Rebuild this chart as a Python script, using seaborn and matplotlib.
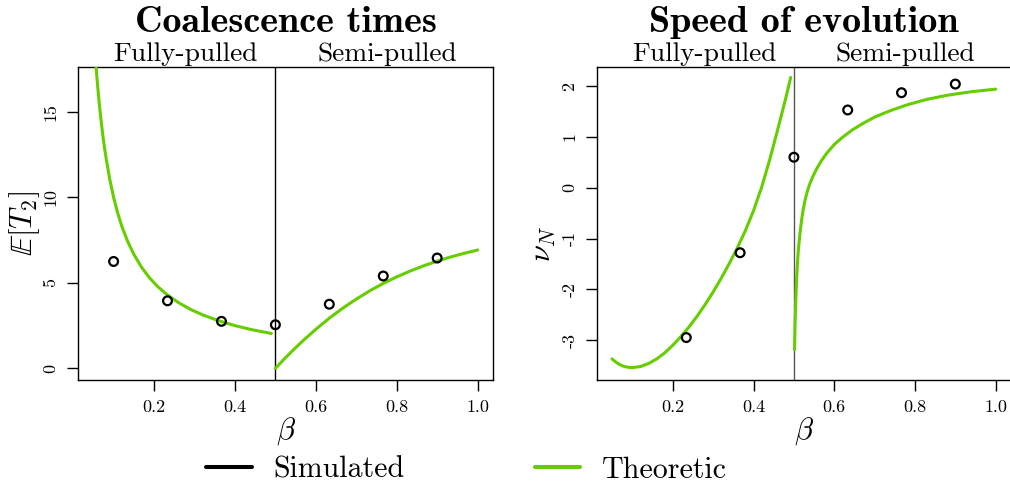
import matplotlib
matplotlib.use("Agg")
import matplotlib.pyplot as plt
import seaborn as sns
from matplotlib.lines import Line2D

# ---------------- data ----------------
beta_sim = [0.1, 0.2333, 0.3667, 0.5, 0.6333, 0.7667, 0.9]
t2_sim = [6.25, 3.95, 2.75, 2.55, 3.75, 5.40, 6.45]

beta_sim_nu = [0.2333, 0.3667, 0.5, 0.6333, 0.7667, 0.9]
nu_sim = [-2.95, -1.28, 0.60, 1.53, 1.87, 2.04]

# theoretic E[T2], fully-pulled branch
beta_t2_fp = [0.05, 0.0525, 0.055, 0.0575, 0.06, 0.065, 0.07, 0.075, 0.08,
              0.09, 0.10, 0.11, 0.12, 0.135, 0.15, 0.17, 0.19, 0.21, 0.23,
              0.26, 0.29, 0.32, 0.36, 0.40, 0.44, 0.49]
t2_fp = [20.0, 19.05, 18.18, 17.39, 16.67, 15.38, 14.29, 13.33, 12.50,
         11.11, 10.00, 9.09, 8.33, 7.41, 6.67, 5.88, 5.26, 4.76, 4.35,
         3.85, 3.45, 3.13, 2.78, 2.50, 2.27, 2.04]
# theoretic E[T2], semi-pulled branch
beta_t2_sp = [0.5, 0.52, 0.54, 0.57, 0.60, 0.633, 0.667, 0.70, 0.733, 0.767,
              0.80, 0.833, 0.867, 0.90, 0.933, 0.967, 1.0]
t2_sp = [0.0, 0.50, 0.98, 1.655, 2.285, 2.93, 3.525, 4.05, 4.53, 4.97,
         5.35, 5.69, 6.00, 6.27, 6.51, 6.73, 6.92]

# theoretic nu_N, fully-pulled branch
beta_nu_fp = [0.049, 0.06, 0.07, 0.08, 0.09, 0.10, 0.12, 0.14, 0.16, 0.18,
              0.20, 0.22, 0.24, 0.26, 0.28, 0.30, 0.32, 0.34, 0.36, 0.38,
              0.40, 0.42, 0.44, 0.46, 0.48, 0.492]
nu_fp = [-3.37, -3.44, -3.49, -3.52, -3.535, -3.54, -3.52, -3.46, -3.37,
         -3.25, -3.10, -2.93, -2.74, -2.53, -2.30, -2.05, -1.78, -1.49,
         -1.18, -0.84, -0.45, 0.01, 0.55, 1.15, 1.77, 2.17]
# theoretic nu_N, semi-pulled branch
beta_nu_sp = [0.5015, 0.503, 0.505, 0.507, 0.509, 0.511, 0.515, 0.519, 0.523,
              0.528, 0.534, 0.540, 0.548, 0.557, 0.568, 0.581, 0.60, 0.62,
              0.645, 0.67, 0.70, 0.74, 0.78, 0.83, 0.88, 0.94, 1.0]
nu_sp = [-3.19, -2.65, -2.15, -1.75, -1.46, -1.23, -0.90, -0.64, -0.43,
         -0.23, -0.05, 0.09, 0.24, 0.38, 0.53, 0.675, 0.85, 0.99, 1.14,
         1.26, 1.39, 1.52, 1.63, 1.74, 1.82, 1.89, 1.94]

x_ticks = [0.2, 0.4, 0.6, 0.8, 1.0]
x_tick_labels = ["0.2", "0.4", "0.6", "0.8", "1.0"]
t2_ticks = [0, 5, 10, 15]
t2_tick_labels = ["0", "5", "10", "15"]
nu_ticks = [-3, -2, -1, 0, 1, 2]
nu_tick_labels = ["-3", "-2", "-1", "0", "1", "2"]

titles = ["Coalescence times", "Speed of evolution"]
regimes = ["Fully-pulled", "Semi-pulled"]
legend_labels = ["Simulated", "Theoretic"]
GREEN = "#66CD00"

# ---------------- style ----------------
sns.set_style("white")
plt.rcParams['font.family'] = ['cmr10']
plt.rcParams['mathtext.fontset'] = 'cm'
plt.rcParams['axes.unicode_minus'] = False
plt.rcParams['axes.formatter.use_mathtext'] = True
plt.rcParams['text.color'] = 'black'
plt.rcParams['axes.labelcolor'] = 'black'
plt.rcParams['xtick.color'] = 'black'
plt.rcParams['ytick.color'] = 'black'

W, H = 1010, 484
fig = plt.figure(figsize=(W / 100, H / 100), dpi=100)
axL = fig.add_axes([78 / W, (H - 380) / H, 415 / W, 313 / H])
axR = fig.add_axes([597 / W, (H - 380) / H, 414 / W, 313 / H])


def draw(ax, bx_fp, y_fp, bx_sp, y_sp, bsim, ysim, vcolor):
    ax.axvline(0.5, color=vcolor, lw=1.0, zorder=1)
    sns.lineplot(x=bx_fp, y=y_fp, ax=ax, color=GREEN, lw=2.2, sort=False,
                 estimator=None, zorder=3)
    sns.lineplot(x=bx_sp, y=y_sp, ax=ax, color=GREEN, lw=2.2, sort=False,
                 estimator=None, zorder=3)
    sns.scatterplot(x=bsim, y=ysim, ax=ax, marker='o', s=40,
                    facecolor='none', edgecolor='black', linewidth=1.6,
                    zorder=5)
    ax.set_xlim(0.012, 1.038)
    ax.set_xticks(x_ticks)
    ax.set_xticklabels(x_tick_labels)
    for sp in ax.spines.values():
        sp.set_visible(True)
        sp.set_color('black')
        sp.set_linewidth(1.0)
    ax.tick_params(direction='out', length=7.7, width=1.0, pad=6.5,
                   labelsize=13, colors='black', bottom=True, left=True)


draw(axL, beta_t2_fp, t2_fp, beta_t2_sp, t2_sp, beta_sim, t2_sim, 'black')
draw(axR, beta_nu_fp, nu_fp, beta_nu_sp, nu_sp, beta_sim_nu, nu_sim, '#555555')

axL.set_ylim(-0.68, 17.62)
axL.set_yticks(t2_ticks)
axL.set_yticklabels(t2_tick_labels, rotation=90, va='center')
axR.set_ylim(-3.785, 2.376)
axR.set_yticks(nu_ticks)
axR.set_yticklabels(nu_tick_labels, rotation=90, va='center')

axL.set_ylabel(r'$\mathbb{E}[T_2]$', fontsize=22, color='black')
axL.yaxis.set_label_coords(-0.128, 0.5)
axR.set_ylabel(r'$\nu_N$', fontsize=22, color='black')
axR.yaxis.set_label_coords(-0.128, 0.436)
for ax in (axL, axR):
    ax.yaxis.label.set_va('center')
    ax.yaxis.label.set_ha('center')
    ax.set_xlabel(r'$\beta$', fontsize=22, color='black')
    ax.xaxis.set_label_coords(0.5, (380 - 439) / 313)
    ax.xaxis.label.set_va('baseline')

for ax, title in zip((axL, axR), titles):
    ax.text(0.5, 1.112, title, transform=ax.transAxes, ha='center',
            va='baseline', family='cmb10', fontsize=27.5, color='black')
    tr = ax.get_xaxis_transform()
    ax.text(0.278, 1.019, regimes[0], transform=tr, ha='center',
            va='baseline', fontsize=19.7, color='black')
    ax.text(0.776, 1.019, regimes[1], transform=tr, ha='center',
            va='baseline', fontsize=19.7, color='black')

handles = [Line2D([], [], color='black', lw=2.9),
           Line2D([], [], color=GREEN, lw=2.9)]
leg = fig.legend(handles, legend_labels, loc='center',
                 bbox_to_anchor=(466.5 / W, (H - 470) / H), ncol=2,
                 frameon=False, fontsize=21.6, handlelength=1.53,
                 handletextpad=0.73, columnspacing=4.33, borderpad=0.0,
                 borderaxespad=0.0)
for t in leg.get_texts():
    t.set_color('black')

fig.savefig('out.png', dpi=100)
